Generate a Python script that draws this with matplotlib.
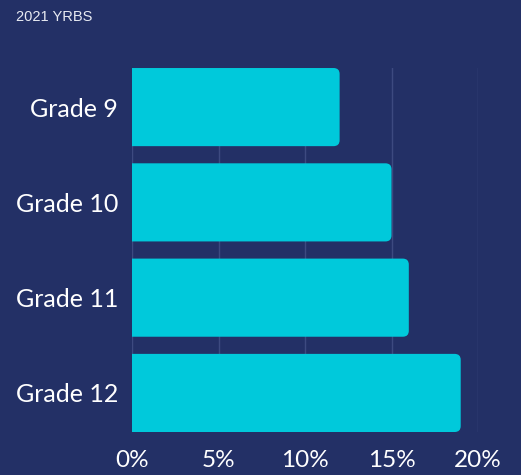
import matplotlib
matplotlib.use("Agg")
import matplotlib.pyplot as plt
from matplotlib.patches import FancyBboxPatch

grades = ["Grade 9", "Grade 10", "Grade 11", "Grade 12"]
percent = [12.0, 15.0, 16.0, 19.0]
ticks = [0, 5, 10, 15, 20]
tick_labels = ["0%", "5%", "10%", "15%", "20%"]

bg = "#233066"
cyan = "#00c9db"
grid_col = "#3d4a80"

plt.rcParams['font.family'] = ['Lato', 'DejaVu Sans']

fig = plt.figure(figsize=(5.21, 4.75), dpi=100, facecolor=bg)
ax = fig.add_axes([0.2534, 0.0905, 0.6641, 0.7663], facecolor=bg)

# invisible bars just for layout, rounded ones drawn on top
bars = ax.barh(range(len(grades)), percent, height=0.82, color="none")
for b in bars:
    x0, y0 = b.get_x(), b.get_y()
    w, h = b.get_width(), b.get_height()
    p = FancyBboxPatch((x0 - 1, y0), w + 1, h,
                       boxstyle="round,pad=0,rounding_size=0.35",
                       mutation_aspect=0.18, facecolor=cyan, edgecolor="none",
                       zorder=3)
    ax.add_patch(p)

ax.set_xlim(0, 20)
ax.set_ylim(3.41, -0.41)
ax.set_yticks(range(len(grades)))
ax.set_yticklabels(grades)
ax.set_xticks(ticks)
ax.set_xticklabels(tick_labels)
ax.tick_params(axis="y", length=0, pad=10, labelsize=18, labelcolor="white")
ax.tick_params(axis="x", length=0, pad=13, labelsize=17.5, labelcolor="white")
ax.grid(axis="x", color=grid_col, linewidth=1, zorder=0)
ax.set_axisbelow(True)
for s in ax.spines.values():
    s.set_visible(False)

fig.text(16 / 521, 1 - 17 / 475, "2021 YRBS", color="#e8eaf2", fontsize=10.5,
         family=["Liberation Sans", "DejaVu Sans"], ha="left", va="center")

fig.savefig("out.png", dpi=100, facecolor=bg)
